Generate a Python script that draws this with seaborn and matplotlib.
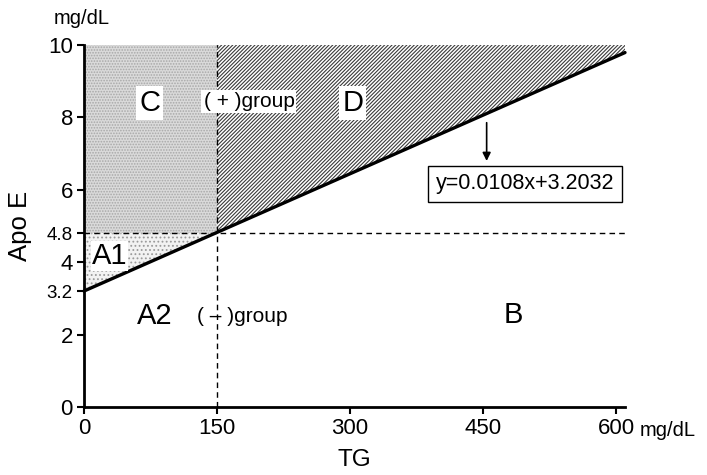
import matplotlib
matplotlib.use("Agg")
import matplotlib.pyplot as plt
import seaborn as sns
import numpy as np
import pandas as pd

# ---- data ----
slope = 0.0108
intercept = 3.2032
tg_cut = 150
apo_cut = 4.8
tg_line = [0, 150, 610]
x_ticks = [0, 150, 300, 450, 600]
x_ticklabels = ["0", "150", "300", "450", "600"]
y_ticks = [0, 2, 3.2, 4, 4.8, 6, 8, 10]
y_ticklabels = ["0", "2", "3.2", "4", "4.8", "6", "8", "10"]
x_max = 610
y_max = 10

sns.set_theme(style="ticks")
plt.rcParams['font.family'] = ['Liberation Sans', 'DejaVu Sans']
plt.rcParams['hatch.linewidth'] = 0.8
plt.rcParams['text.color'] = 'black'
plt.rcParams['axes.labelcolor'] = 'black'

df = pd.DataFrame({"TG": tg_line})
df["ApoE"] = slope * df["TG"] + intercept

fig = plt.figure(figsize=(7.07, 4.75), dpi=100)
ax = fig.add_axes([84/707, 68/475, (625-84)/707, (407-45)/475])

# regions
x_cross = (apo_cut - intercept) / slope
# C
ax.fill_between([0, tg_cut], apo_cut, y_max, facecolor="#dadada", edgecolor="#a8a8a8",
                hatch="......", linewidth=0, zorder=1)
# A1
ax.fill_between([0, x_cross], [intercept, apo_cut], apo_cut, facecolor="#f2f2f2",
                edgecolor="#9a9a9a", hatch="....", linewidth=0, zorder=1)
# D
xd = np.array([tg_cut, x_max])
ax.fill_between(xd, slope * xd + intercept, y_max, facecolor="white", edgecolor="#3a3a3a",
                hatch="/////////", linewidth=0, zorder=1)

# dashed threshold lines
ax.plot([0, x_max], [apo_cut, apo_cut], color="black", lw=1.0, ls=(0, (4, 3)), zorder=2, clip_on=False)
ax.plot([tg_cut, tg_cut], [0, y_max], color="black", lw=1.0, ls=(0, (4, 3)), zorder=2, clip_on=False)

# regression line
sns.lineplot(data=df, x="TG", y="ApoE", ax=ax, color="black", lw=2.4, zorder=4)
for l in ax.lines:
    l.set_clip_on(False)

ax.set_xlim(0, x_max)
ax.set_ylim(0, y_max)
ax.set_xticks(x_ticks)
ax.set_xticklabels(x_ticklabels, fontsize=16)
ax.set_yticks(y_ticks)
ax.set_yticklabels(y_ticklabels, fontsize=16)
for lab in ax.get_yticklabels():
    if lab.get_text() in ("3.2", "4.8"):
        lab.set_fontsize(13.5)
ax.tick_params(axis="both", direction="out", length=5, width=1.5, color="black", pad=3,
               labelcolor="black")
for s in ["top", "right"]:
    ax.spines[s].set_visible(False)
for s in ["left", "bottom"]:
    ax.spines[s].set_linewidth(2.0)
    ax.spines[s].set_color("black")
ax.set_facecolor("white")

ax.set_xlabel("TG", fontsize=17.5)
ax.set_ylabel("Apo E", fontsize=18.5)
ax.xaxis.set_label_coords(0.5, -0.115)
ax.yaxis.set_label_coords(-0.096, 0.5)

# annotations
wb = dict(boxstyle="square,pad=0.1", fc="white", ec="none")
ax.text(74, 8.4, "C", fontsize=21, ha="center", va="center", bbox=wb, zorder=5)
ax.text(186, 8.45, "( + )group", fontsize=15, ha="center", va="center", bbox=wb, zorder=5)
ax.text(303, 8.4, "D", fontsize=21, ha="center", va="center", bbox=wb, zorder=5)
ax.text(29, 4.17, "A1", fontsize=21, ha="center", va="center",
        bbox=dict(boxstyle="square,pad=0.02", fc="white", ec="none"), zorder=5)
ax.text(80, 2.5, "A2", fontsize=21, ha="center", va="center", zorder=5)
ax.text(178, 2.5, "( – )group", fontsize=15, ha="center", va="center", zorder=5)
ax.text(484, 2.55, "B", fontsize=21, ha="center", va="center", zorder=5)

ax.annotate("", xy=(454, 6.72), xytext=(454, 7.93),
            arrowprops=dict(arrowstyle="-|>", color="black", lw=1.2, mutation_scale=12))
ax.text(497, 6.17, "y=0.0108x+3.2032", fontsize=15.5, ha="center", va="center", zorder=5,
        bbox=dict(boxstyle="square,pad=0.35", fc="white", ec="black", lw=1.0))

fig.text(82/707, 1 - 18/475, "mg/dL", fontsize=14.5, ha="center", va="center")
fig.text(668/707, 1 - 430/475, "mg/dL", fontsize=14.5, ha="center", va="center")

fig.savefig("out.png", dpi=100, facecolor="white")
